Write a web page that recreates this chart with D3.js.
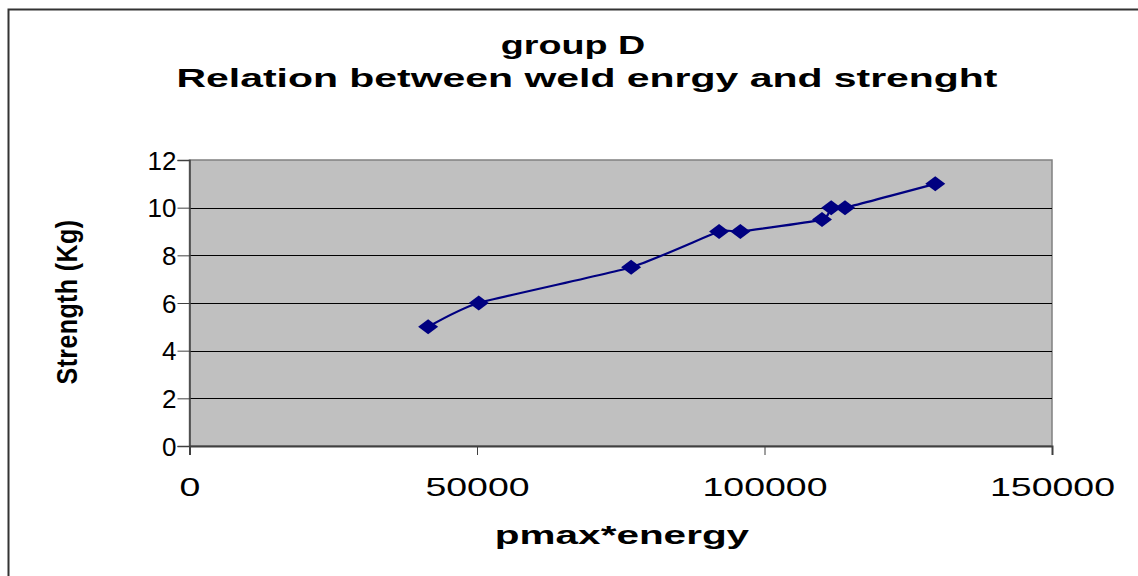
<!DOCTYPE html>
<html>
<head>
<meta charset="utf-8">
<script src="https://cdn.jsdelivr.net/npm/d3@7/dist/d3.min.js"></script>
<style>
  html, body { margin: 0; padding: 0; background: #fff; }
  svg { display: block; }
  text { font-family: "Liberation Sans", Arial, sans-serif; fill: #000; }
</style>
</head>
<body>
<svg id="chart" width="1138" height="576"></svg>
<script>
// Weld energy (pmax*energy) vs. strength (Kg), group D
const energy   = [41500, 50300, 76800, 92100, 95800, 110000, 111600, 114000, 129700];
const strength = [5, 6, 7.5, 9, 9, 9.5, 10, 10, 11];
const xTicks = [0, 50000, 100000, 150000];
const yTicks = [0, 2, 4, 6, 8, 10, 12];
const titleLines = ["group D", "Relation between weld enrgy and strenght"];
const xTitle = "pmax*energy";
const yTitle = "Strength (Kg)";

const W = 1138, H = 576;
const plot = { left: 189.5, right: 1052, top: 160, bottom: 446 };

const svg = d3.select("#chart");

// outer frame (top and left edges)
svg.append("path")
  .attr("d", `M8.5,${H} V9.5 H${W}`)
  .attr("fill", "none").attr("stroke", "#333").attr("stroke-width", 2);

const x = d3.scaleLinear().domain([0, 150000]).range([plot.left, plot.right]);
const y = d3.scaleLinear().domain([0, 12]).range([plot.bottom, plot.top]);

// plot background
svg.append("rect")
  .attr("x", plot.left).attr("y", plot.top)
  .attr("width", plot.right - plot.left).attr("height", plot.bottom - plot.top)
  .attr("fill", "#c0c0c0").attr("stroke", "#808080").attr("stroke-width", 1.5);

// horizontal gridlines
svg.append("g").selectAll("line")
  .data(yTicks.filter(d => d > 0 && d < 12))
  .join("line")
  .attr("x1", plot.left).attr("x2", plot.right)
  .attr("y1", d => Math.round(y(d)) + 0.5).attr("y2", d => Math.round(y(d)) + 0.5)
  .attr("stroke", "#000").attr("stroke-width", 1);

// y axis
const yAxis = svg.append("g")
  .attr("transform", `translate(${plot.left},0)`)
  .call(d3.axisLeft(y).tickValues(yTicks).tickSize(12).tickPadding(14).tickFormat(d3.format("d")));
yAxis.select(".domain").attr("stroke", "#404040").attr("stroke-width", 1.5);
yAxis.selectAll(".tick line").attr("stroke", "#404040");
yAxis.selectAll(".tick text")
  .attr("font-size", 26).attr("fill", "#000")
  .attr("font-family", "Liberation Sans, Arial, sans-serif")
  .attr("x", -13).attr("dy", "0.35em").attr("text-anchor", "end");

// x axis
const xAxis = svg.append("g")
  .attr("transform", `translate(0,${plot.bottom})`)
  .call(d3.axisBottom(x).tickValues(xTicks).tickSize(9).tickPadding(0).tickFormat(d3.format("d")));
xAxis.select(".domain").attr("stroke", "#404040").attr("stroke-width", 2);
xAxis.selectAll(".tick line").attr("stroke", "#404040");
xAxis.selectAll(".tick text")
  .attr("font-size", 25).attr("fill", "#000")
  .attr("font-family", "Liberation Sans, Arial, sans-serif")
  .attr("y", null).attr("dy", "0.35em")
  .attr("transform", "translate(0,41) scale(1.5,1)");

// smoothed series line
const pts = energy.map((e, i) => [e, strength[i]]);
svg.append("path")
  .datum(pts)
  .attr("fill", "none").attr("stroke", "#000080").attr("stroke-width", 2.2)
  .attr("d", d3.line().x(d => x(d[0])).y(d => y(d[1])).curve(d3.curveCardinal.tension(0.5)));

// diamond markers
const diamond = "M0,-7.5 L10,0 L0,7.5 L-10,0 Z";
svg.append("g").selectAll("path")
  .data(pts)
  .join("path")
  .attr("d", diamond)
  .attr("transform", d => `translate(${x(d[0])},${y(d[1])})`)
  .attr("fill", "#000080");

// titles, drawn with widened lettering
function stretchedText(txt, tx, ty, size, sx) {
  return svg.append("text")
    .attr("transform", `translate(${tx},${ty}) scale(${sx},1)`)
    .attr("text-anchor", "middle")
    .attr("font-size", size).attr("font-weight", "bold")
    .text(txt);
}
stretchedText(titleLines[0], 573, 54, 26, 1.45);
stretchedText(titleLines[1], 587, 87, 26, 1.575);
stretchedText(xTitle, 622, 544, 25, 1.62);

// y title (rotated, heavy lettering)
svg.append("text")
  .attr("transform", "translate(77,302) rotate(-90) scale(1,1.15)")
  .attr("text-anchor", "middle")
  .attr("font-size", 25).attr("font-weight", "bold")
  .attr("letter-spacing", 0.4)
  .text(yTitle);
</script>
</body>
</html>
